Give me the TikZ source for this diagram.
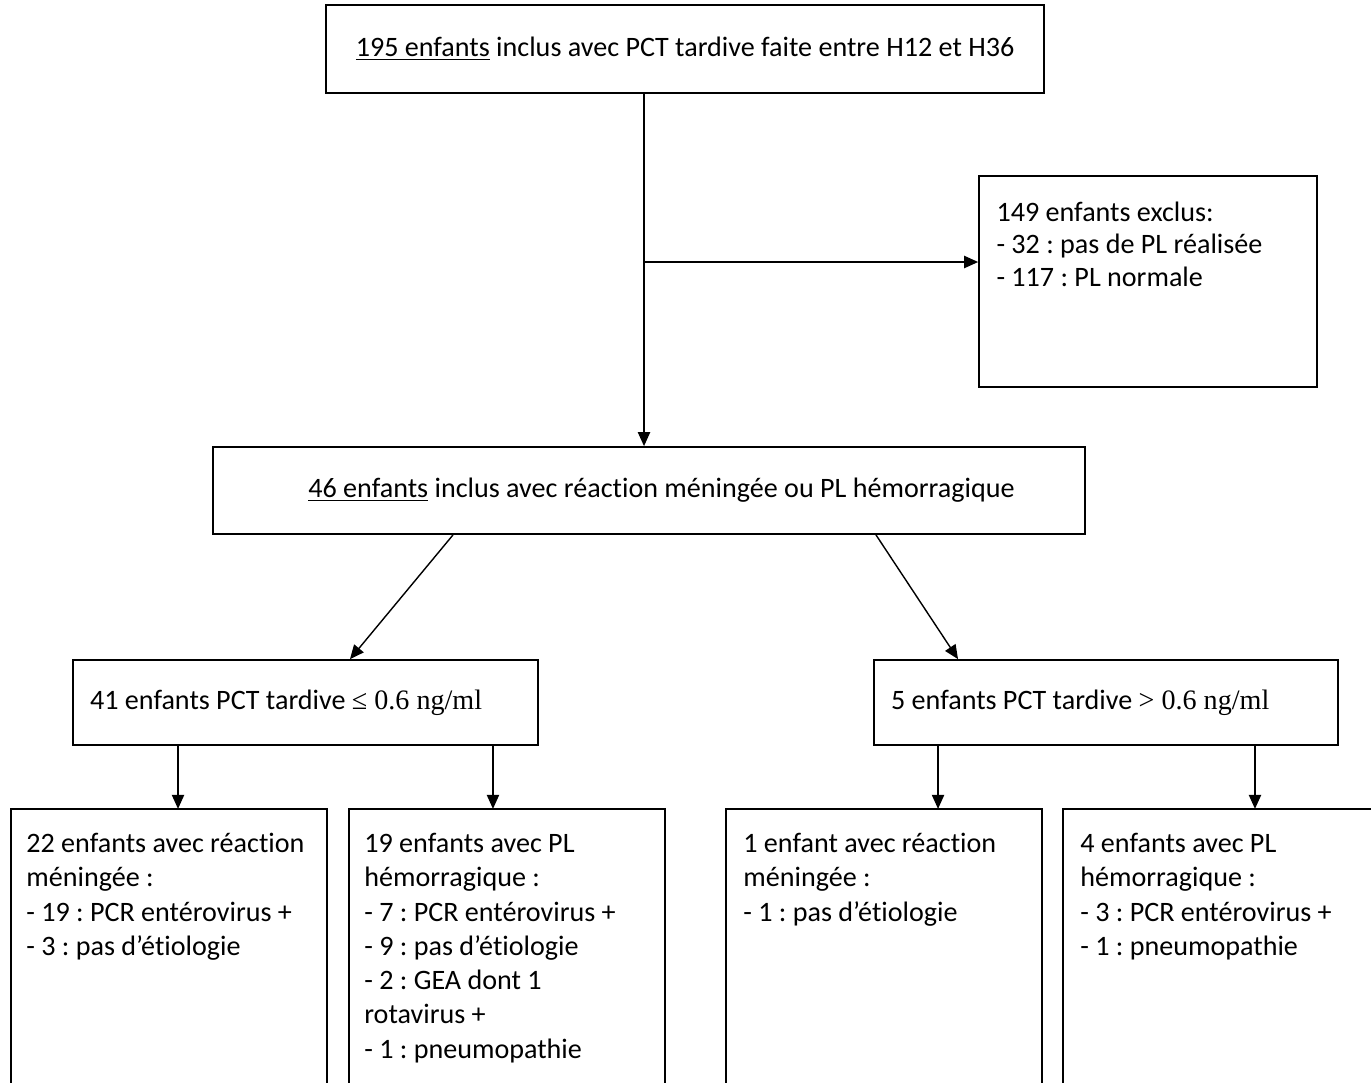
\documentclass[tikz,border=0pt]{standalone}
\usepackage{fontspec}
\setmainfont{Carlito}[Ligatures={TeX,NoCommon,NoContextual},RawFeature=-liga,RawFeature=-clig,RawFeature=-calt]
\newfontfamily\timesfont{Liberation Serif}
\frenchspacing
\usetikzlibrary{arrows.meta,positioning}

\begin{document}
\begin{tikzpicture}[x=0.02cm,y=-0.02cm,
	box/.style={draw,line width=1pt,inner sep=0pt,font=\fontsize{16}{19.5}\selectfont},
	txt/.style={inner sep=0pt,align=flush left,font=\fontsize{16}{19.5}\selectfont},
	arr/.style={-{Triangle[length=8pt,width=7pt]},line width=0.8pt}]
	
		%%Frame
		\useasboundingbox (0,0) rectangle (1371,1082);
		\clip (0,0) rectangle (1371,1082);
		
		%%Boxes
		\node[box,minimum width=14.36cm,minimum height=1.76cm] (top) at (685,49) {\underline{195 enfants} inclus avec PCT tardive faite entre H12 et H36};
		\node[box,minimum width=6.76cm,minimum height=4.22cm] (excl) at (1148,281.5) {};
		\node[box,minimum width=17.44cm,minimum height=1.74cm] (mid) at (649,490.5) {\hspace*{0.5cm}\underline{46 enfants} inclus avec réaction méningée ou PL hémorragique};
		\node[box,minimum width=9.3cm,minimum height=1.7cm,inner xsep=0.34cm,text width=8.62cm,align=flush left] (low) at (305.5,702.5) {41 enfants PCT tardive {\timesfont ≤ 0.6 ng/ml}};
		\node[box,minimum width=9.28cm,minimum height=1.7cm,inner xsep=0.34cm,text width=8.6cm,align=flush left] (high) at (1106,702.5) {5 enfants PCT tardive {\timesfont > 0.6 ng/ml}};
		
		\node[box,anchor=north west,minimum width=6.32cm,minimum height=6cm] (b1) at (10,808) {};
		\node[box,anchor=north west,minimum width=6.32cm,minimum height=6cm] (b2) at (348,808) {};
		\node[box,anchor=north west,minimum width=6.32cm,minimum height=6cm] (b3) at (725,808) {};
		\node[box,anchor=north west,minimum width=7cm,minimum height=6cm] (b4) at (1062,808) {};
		
		%%Texts
		\node[txt,anchor=north west,font=\fontsize{16}{18.5}\selectfont] (exclt) at ([shift={(0.36cm,-0.52cm)}]excl.north west) {149 enfants exclus:\\- 32 : pas de PL réalisée\\- 117 : PL normale};
		\node[txt,anchor=north west] (b1t) at ([shift={(0.32cm,-0.5cm)}]b1.north west) {22 enfants avec réaction\\méningée :\\- 19 : PCR entérovirus +\\- 3 : pas d’étiologie};
		\node[txt,anchor=north west] (b2t) at ([shift={(0.32cm,-0.5cm)}]b2.north west) {19 enfants avec PL\\hémorragique :\\- 7 : PCR entérovirus +\\- 9 : pas d’étiologie\\- 2 : GEA dont 1\\rotavirus +\\- 1 : pneumopathie};
		\node[txt,anchor=north west] (b3t) at ([shift={(0.36cm,-0.5cm)}]b3.north west) {1 enfant avec réaction\\méningée :\\- 1 : pas d’étiologie};
		\node[txt,anchor=north west] (b4t) at ([shift={(0.36cm,-0.5cm)}]b4.north west) {4 enfants avec PL\\hémorragique :\\- 3 : PCR entérovirus +\\- 1 : pneumopathie};
		
		%%Arrows
		\coordinate (split) at ([xshift=-0.82cm]top.south);
		\coordinate (exclin) at ([yshift=0.39cm]excl.west);
		\draw[arr] (split) -- (split |- mid.north);
		\draw[arr] (split |- exclin) -- (exclin);
		\draw[arr] ([xshift=-3.92cm]mid.south) -- ([xshift=0.89cm]low.north);
		\draw[arr] ([xshift=4.54cm]mid.south) -- ([xshift=-2.96cm]high.north);
		\draw[arr] ([xshift=-2.55cm]low.south) -- ++(0,-1.26cm);
		\draw[arr] ([xshift=3.75cm]low.south) -- ++(0,-1.26cm);
		\draw[arr] ([xshift=-3.36cm]high.south) -- ++(0,-1.26cm);
		\draw[arr] ([xshift=2.98cm]high.south) -- ++(0,-1.26cm);
	\end{tikzpicture}
\end{document}
